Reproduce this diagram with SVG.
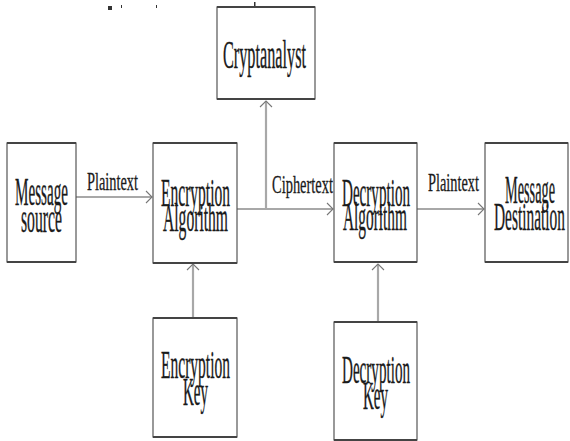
<svg xmlns="http://www.w3.org/2000/svg" width="570" height="441" viewBox="0 0 570 441">
<style>
.box{fill:#fff;stroke:#555;stroke-width:1.2}
.edge{stroke:#444;stroke-width:2.2}
.lbl{font-family:"Liberation Serif","Times New Roman",serif;font-size:40px;fill:#1a1a1a;stroke:#1a1a1a;stroke-width:0.4}
.elbl{font-family:"Liberation Serif","Times New Roman",serif;font-size:26px;fill:#1a1a1a;stroke:#1a1a1a;stroke-width:0.3}
.conn{stroke:#a8a8a8;stroke-width:2.2;fill:none}
</style>
<defs>
<marker id="arr" markerWidth="8" markerHeight="14" refX="7" refY="7" orient="auto" markerUnits="userSpaceOnUse">
<path d="M1,1 L7,7 L1,13" fill="none" stroke="#777" stroke-width="1.1"/>
</marker>
</defs>
<rect width="570" height="441" fill="#fff"/>
<g id="artifacts" fill="#333">
<rect x="108" y="6" width="4" height="4"/>
<rect x="121" y="5" width="1" height="3"/>
<rect x="156" y="5" width="1" height="3"/>
<rect x="254" y="2" width="1.5" height="5"/>
</g>
<g id="connectors">
<line class="conn" x1="76" y1="197" x2="152" y2="197" marker-end="url(#arr)"/>
<polyline class="conn" points="237,209 333,209" marker-end="url(#arr)"/>
<line class="conn" x1="266" y1="209" x2="266" y2="101" marker-end="url(#arr)"/>
<line class="conn" x1="417" y1="209" x2="484" y2="209" marker-end="url(#arr)"/>
<line class="conn" x1="193" y1="318" x2="193" y2="264" marker-end="url(#arr)"/>
<line class="conn" x1="378" y1="322" x2="378" y2="264" marker-end="url(#arr)"/>
<text class="elbl" transform="translate(87,190) scale(0.5,1)" textLength="102" lengthAdjust="spacingAndGlyphs">Plaintext</text>
<text class="elbl" transform="translate(272,193) scale(0.5,1)" textLength="122" lengthAdjust="spacingAndGlyphs">Ciphertext</text>
<text class="elbl" transform="translate(428,191) scale(0.5,1)" textLength="102" lengthAdjust="spacingAndGlyphs">Plaintext</text>
</g>
<g id="cryptanalyst">
<rect class="box" x="217" y="7" width="98" height="92"/>
<line class="edge" x1="217" y1="7" x2="315" y2="7"/><line class="edge" x1="217" y1="99" x2="315" y2="99"/>
<text class="lbl" transform="translate(223,68) scale(0.4,1)" textLength="207.5" lengthAdjust="spacingAndGlyphs">Cryptanalyst</text>
</g>
<g id="message-source">
<rect class="box" x="7" y="143" width="69" height="119"/>
<line class="edge" x1="7" y1="143" x2="76" y2="143"/><line class="edge" x1="7" y1="262" x2="76" y2="262"/>
<text class="lbl" transform="translate(15,205) scale(0.4,1)" textLength="132.5" lengthAdjust="spacingAndGlyphs">Message</text>
<text class="lbl" transform="translate(21,232) scale(0.4,1)" textLength="102.5" lengthAdjust="spacingAndGlyphs">source</text>
</g>
<g id="encryption-algorithm">
<rect class="box" x="153" y="143" width="84" height="120"/>
<line class="edge" x1="153" y1="143" x2="237" y2="143"/><line class="edge" x1="153" y1="263" x2="237" y2="263"/>
<text class="lbl" transform="translate(161,206) scale(0.4,1)" textLength="172.5" lengthAdjust="spacingAndGlyphs">Encryption</text>
<text class="lbl" transform="translate(163,231) scale(0.4,1)" textLength="162.5" lengthAdjust="spacingAndGlyphs">Algorithm</text>
</g>
<g id="decryption-algorithm">
<rect class="box" x="334" y="143" width="83" height="119"/>
<line class="edge" x1="334" y1="143" x2="417" y2="143"/><line class="edge" x1="334" y1="262" x2="417" y2="262"/>
<text class="lbl" transform="translate(342,206) scale(0.4,1)" textLength="170" lengthAdjust="spacingAndGlyphs">Decryption</text>
<text class="lbl" transform="translate(343,230) scale(0.4,1)" textLength="160" lengthAdjust="spacingAndGlyphs">Algorithm</text>
</g>
<g id="message-destination">
<rect class="box" x="485" y="143" width="83" height="119"/>
<line class="edge" x1="485" y1="143" x2="568" y2="143"/><line class="edge" x1="485" y1="262" x2="568" y2="262"/>
<text class="lbl" transform="translate(505,203) scale(0.4,1)" textLength="125" lengthAdjust="spacingAndGlyphs">Message</text>
<text class="lbl" transform="translate(494,230) scale(0.4,1)" textLength="177.5" lengthAdjust="spacingAndGlyphs">Destination</text>
</g>
<g id="encryption-key">
<rect class="box" x="153" y="318" width="84" height="119"/>
<line class="edge" x1="153" y1="318" x2="237" y2="318"/><line class="edge" x1="153" y1="437" x2="237" y2="437"/>
<text class="lbl" transform="translate(161,378) scale(0.4,1)" textLength="172.5" lengthAdjust="spacingAndGlyphs">Encryption</text>
<text class="lbl" transform="translate(183,405) scale(0.4,1)" textLength="62.5" lengthAdjust="spacingAndGlyphs">Key</text>
</g>
<g id="decryption-key">
<rect class="box" x="334" y="322" width="83" height="118"/>
<line class="edge" x1="334" y1="322" x2="417" y2="322"/><line class="edge" x1="334" y1="440" x2="417" y2="440"/>
<text class="lbl" transform="translate(342,383) scale(0.4,1)" textLength="170" lengthAdjust="spacingAndGlyphs">Decryption</text>
<text class="lbl" transform="translate(363,409) scale(0.4,1)" textLength="62.5" lengthAdjust="spacingAndGlyphs">Key</text>
</g>
</svg>
